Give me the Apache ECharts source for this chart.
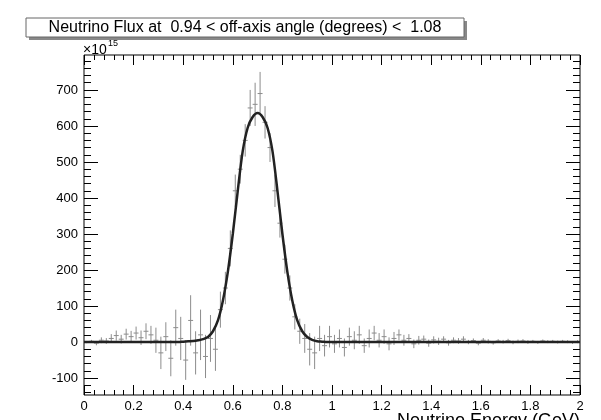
<!DOCTYPE html>
<html>
<head>
<meta charset="utf-8">
<script src="https://cdn.jsdelivr.net/npm/echarts@6/dist/echarts.min.js"></script>
<style>
html,body{margin:0;padding:0;background:#fff;}
#c{width:601px;height:420px;}
</style>
</head>
<body>
<div id="c"></div>
<script>
// ---- data ----
var titleText = 'Neutrino Flux at  0.94 < off-axis angle (degrees) <  1.08';
var xTitle = 'Neutrino Energy (GeV)';
var yMajorTicks = [-100, 0, 100, 200, 300, 400, 500, 600, 700];
var yMinorTicks = [-140, -120, -80, -60, -40, -20, 20, 40, 60, 80, 120, 140, 160, 180, 220, 240, 260, 280,
  320, 340, 360, 380, 420, 440, 460, 480, 520, 540, 560, 580, 620, 640, 660, 680, 720, 740, 760, 780];

// fit curve (energy, flux)
var curveX = [0, 0.02, 0.04, 0.06, 0.08, 0.10, 0.12, 0.14, 0.16, 0.18, 0.20, 0.22, 0.24, 0.26, 0.28, 0.30,
  0.32, 0.34, 0.36, 0.38, 0.40, 0.42, 0.44, 0.46, 0.48, 0.50, 0.52, 0.54, 0.56, 0.58, 0.60, 0.62, 0.64,
  0.66, 0.68, 0.70, 0.72, 0.74, 0.76, 0.78, 0.80, 0.82, 0.84, 0.86, 0.88, 0.90, 0.92, 0.94, 0.96, 0.98,
  1.00, 1.10, 1.20, 1.30, 1.40, 1.50, 1.60, 1.70, 1.80, 1.90, 2.00];
var curveY = [0, 0, 0, 0, 0, 0, 0, 0, 0, 0, 0, 0, 0, 0, 0, 0,
  0, 0, 0, 0, 1, 2, 3, 5, 8, 14, 30, 60, 115, 195, 300, 420, 530,
  595, 625, 636, 625, 595, 530, 420, 300, 195, 115, 60, 30, 14, 6, 2, 1, 0,
  0, 0, 0, 0, 0, 0, 0, 0, 0, 0, 0];

// histogram bins (centre, value, error)
var histX = [0.01, 0.03, 0.05, 0.07, 0.09, 0.11, 0.13, 0.15, 0.17, 0.19, 0.21, 0.23, 0.25, 0.27, 0.29,
  0.31, 0.33, 0.35, 0.37, 0.39, 0.41, 0.43, 0.45, 0.47, 0.49, 0.51, 0.53, 0.55, 0.57, 0.59,
  0.61, 0.63, 0.65, 0.67, 0.69, 0.71, 0.73, 0.75, 0.77, 0.79, 0.81, 0.83, 0.85, 0.87, 0.89,
  0.91, 0.93, 0.95, 0.97, 0.99, 1.01, 1.03, 1.05, 1.07, 1.09, 1.11, 1.13, 1.15, 1.17, 1.19,
  1.21, 1.23, 1.25, 1.27, 1.29, 1.31, 1.33, 1.35, 1.37, 1.39, 1.41, 1.43, 1.45, 1.47, 1.49,
  1.51, 1.53, 1.55, 1.57, 1.59, 1.61, 1.63, 1.65, 1.67, 1.69, 1.71, 1.73, 1.75, 1.77, 1.79,
  1.81, 1.83, 1.85, 1.87, 1.89, 1.91, 1.93, 1.95, 1.97, 1.99];
var histY = [0, 2, -3, 5, 3, 10, 18, 8, 22, 15, 25, 12, 30, 20, 5,
  -30, 15, -45, 40, 10, -50, 60, -30, 20, -40, 10, -20, 90, 150, 260,
  420, 480, 560, 650, 660, 690, 610, 540, 420, 330, 230, 150, 70, 30, 10,
  -20, -30, 10, -10, 15, -5, 10, -15, 15, 5, 20, -10, 10, 25, 5,
  15, -5, 10, 20, 5, 10, -5, 5, 8, -3, 6, 2, 8, -2, 5,
  3, 8, 0, 4, -3, 5, 2, -2, 3, 1, 4, -1, 2, 3, 0,
  2, -1, 3, 1, 2, 0, 2, 1, -1, 1];
var histE = [3, 4, 6, 8, 8, 12, 14, 12, 15, 16, 18, 20, 22, 25, 35,
  45, 40, 50, 50, 60, 55, 70, 60, 70, 60, 65, 60, 50, 45, 50,
  45, 40, 45, 50, 60, 60, 45, 40, 45, 40, 40, 35, 35, 35, 40,
  45, 45, 35, 30, 30, 25, 25, 25, 25, 25, 25, 20, 25, 20, 20,
  20, 18, 18, 15, 15, 12, 12, 12, 10, 10, 10, 10, 8, 8, 8,
  8, 8, 6, 6, 6, 6, 6, 5, 5, 5, 5, 5, 5, 5, 5,
  4, 4, 4, 4, 4, 4, 4, 4, 4, 4];

// ---- build ----
var curveData = curveX.map(function (x, i) { return [x, curveY[i]]; });
var histData = histX.map(function (x, i) { return [x, histY[i], histE[i]]; });

var FONT = 'Liberation Sans';
var yMin = -147, yMax = 797;

function xAx(pos, labels) {
  return { type: 'value', min: 0, max: 2, interval: 0.2, position: pos,
    axisLine: { show: false, onZero: false }, splitLine: { show: false },
    axisTick: { inside: true, length: 10, lineStyle: { color: '#000' } },
    minorTick: { show: true, splitNumber: 5, length: 5, lineStyle: { color: '#000' } },
    axisLabel: labels ? { color: '#000', fontFamily: FONT, fontSize: 13, margin: 5 } : { show: false } };
}
function yAx(pos, ticks, len, labels) {
  return { type: 'value', min: yMin, max: yMax, position: pos,
    axisLine: { show: false, onZero: false }, splitLine: { show: false },
    axisTick: { inside: true, length: len, customValues: ticks, lineStyle: { color: '#000' } },
    axisLabel: labels ? { customValues: ticks, color: '#000', fontFamily: FONT, fontSize: 13, margin: 6 } : { show: false } };
}

var chart = echarts.init(document.getElementById('c'));
chart.setOption({
  animation: false,
  backgroundColor: '#fff',
  grid: { left: 84, right: 21, top: 55, bottom: 25, show: true, borderColor: '#000', borderWidth: 1, backgroundColor: 'transparent' },
  xAxis: [ xAx('bottom', true), xAx('top', false) ],
  yAxis: [
    yAx('left', yMajorTicks, 14, true),
    yAx('left', yMinorTicks, 7, false),
    yAx('right', yMajorTicks, 14, false),
    yAx('right', yMinorTicks, 7, false)
  ],
  series: [
    { type: 'custom', xAxisIndex: 0, yAxisIndex: 0, data: histData, silent: true,
      renderItem: function (params, api) {
        var x = api.value(0), y = api.value(1), e = api.value(2);
        var a = api.coord([x, y - e]), b = api.coord([x, y + e]);
        var l = api.coord([x - 0.01, y]), r = api.coord([x + 0.01, y]);
        return { type: 'group', children: [
          { type: 'line', shape: { x1: a[0], y1: a[1], x2: b[0], y2: b[1] }, style: { stroke: '#8c8c8c', lineWidth: 1 } },
          { type: 'line', shape: { x1: l[0], y1: l[1], x2: r[0], y2: r[1] }, style: { stroke: '#8c8c8c', lineWidth: 1 } }
        ] };
      } },
    { type: 'line', xAxisIndex: 0, yAxisIndex: 0, data: curveData, smooth: 0.3, showSymbol: false,
      lineStyle: { color: '#222', width: 2.5 }, z: 5 }
  ],
  graphic: [
    { type: 'rect', shape: { x: 29, y: 21, width: 438, height: 19 }, style: { fill: '#888' }, z: 10 },
    { type: 'rect', shape: { x: 26, y: 18, width: 438, height: 19 }, style: { fill: '#fff', stroke: '#666', lineWidth: 1 }, z: 11 },
    { type: 'text', x: 245, y: 28, style: { text: titleText, font: '16px "Liberation Sans"', fill: '#000', textAlign: 'center', textVerticalAlign: 'middle' }, z: 12 },
    { type: 'text', x: 83, y: 43, style: { text: '×10', font: '14px "Liberation Sans"', fill: '#000' }, z: 12 },
    { type: 'text', x: 108, y: 39, style: { text: '15', font: '9px "Liberation Sans"', fill: '#000' }, z: 12 },
    { type: 'text', x: 580, y: 412, style: { text: xTitle, font: '18px "Liberation Sans"', fill: '#000', textAlign: 'right' }, z: 12 }
  ]
});
</script>
</body>
</html>
